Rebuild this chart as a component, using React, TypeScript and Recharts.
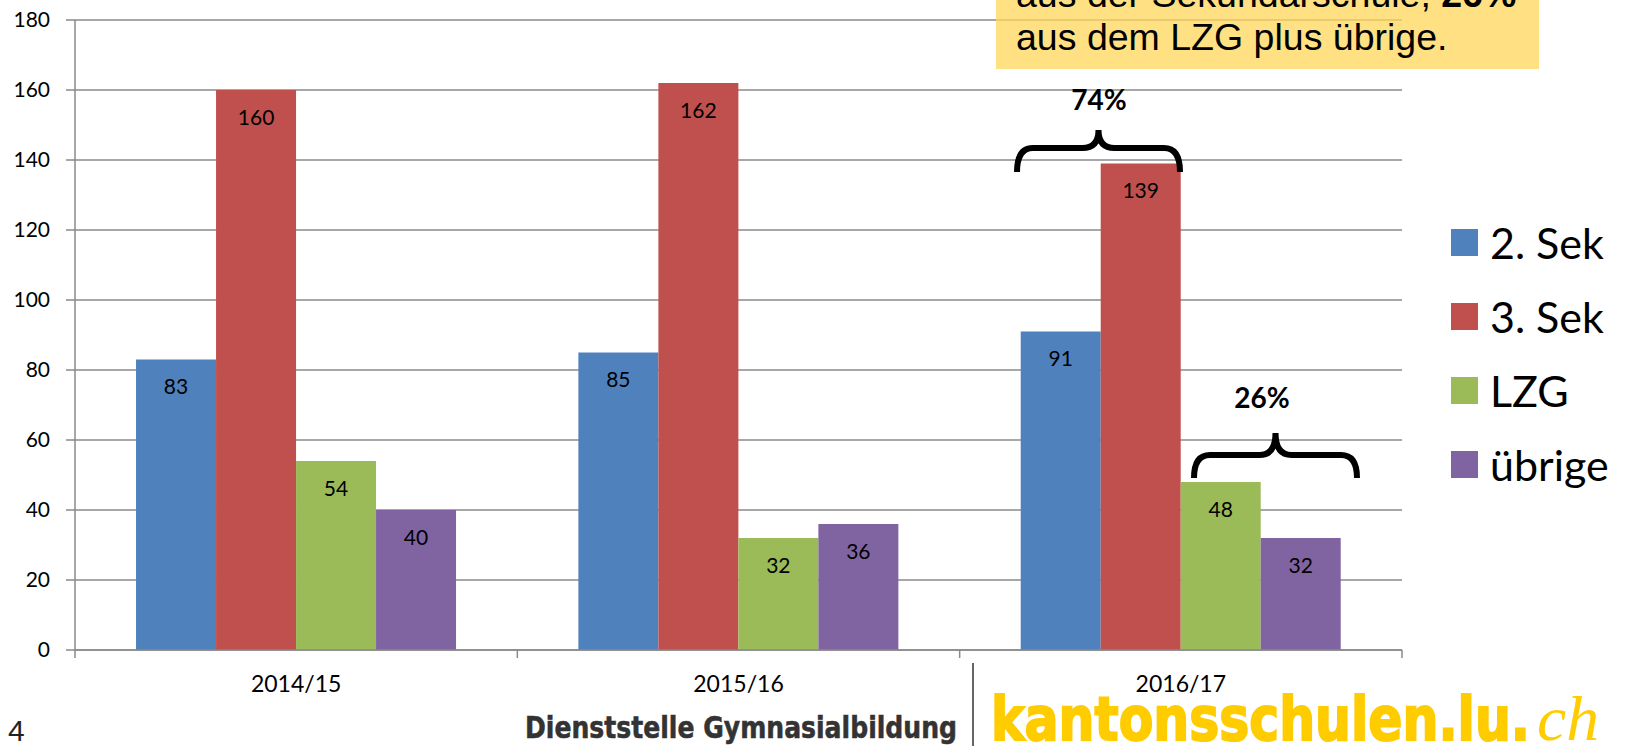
import { Bar, BarChart, CartesianGrid, LabelList, XAxis, YAxis } from "recharts";

const years = ["2014/15", "2015/16", "2016/17"];
const sek2 = [83, 85, 91];
const sek3 = [160, 162, 139];
const lzg = [54, 32, 48];
const uebrige = [40, 36, 32];
const yTicks = [0, 20, 40, 60, 80, 100, 120, 140, 160, 180];

const seriesKeys = ["sek2", "sek3", "lzg", "uebrige"];
const seriesNames = ["2. Sek", "3. Sek", "LZG", "übrige"];
const seriesColors = ["#4F81BD", "#C0504D", "#9BBB59", "#8064A2"];

const data = years.map((year, i) => ({
  year,
  sek2: sek2[i],
  sek3: sek3[i],
  lzg: lzg[i],
  uebrige: uebrige[i],
}));

const font = "Lato, 'Noto Sans', sans-serif";
const arial = "'Liberation Sans', Arial, sans-serif";
const gridGray = "#8a8a8a";

function CategoryTick(props: any) {
  const { x, y, payload, index, visibleTicksCount } = props;
  const half = payload.offset ?? 0;
  const axisY = 650;
  return (
    <g>
      <line x1={x - half} x2={x - half} y1={axisY} y2={axisY + 8} stroke={gridGray} strokeWidth={1.5} />
      {index === visibleTicksCount - 1 ? (
        <line x1={x + half} x2={x + half} y1={axisY} y2={axisY + 8} stroke={gridGray} strokeWidth={1.5} />
      ) : null}
      <text x={x} y={y} dy="0.71em" textAnchor="middle" fill="#000" fontSize={23} fontFamily={font}>
        {payload.value}
      </text>
    </g>
  );
}

function bracePath(x0: number, x1: number, yTip: number, yMid: number, yTop: number) {
  const xm = (x0 + x1) / 2;
  const r = 16;
  return `M${x0},${yTip} Q${x0},${yMid} ${x0 + r},${yMid} L${xm - r},${yMid} Q${xm},${yMid} ${xm},${yTop} Q${xm},${yMid} ${xm + r},${yMid} L${x1 - r},${yMid} Q${x1},${yMid} ${x1},${yTip}`;
}

export default function App() {
  return (
    <div style={{ position: "absolute", left: 0, top: 0, width: 1631, height: 746, background: "#fff", overflow: "hidden" }}>
      <BarChart
        width={1631}
        height={746}
        data={data}
        margin={{ top: 20, right: 229, bottom: 0, left: 0 }}
        barCategoryGap="13.8%"
        barGap={0}
        style={{ fontFamily: font }}
      >
        <CartesianGrid vertical={false} stroke={gridGray} strokeWidth={1.5} />
        <XAxis
          dataKey="year"
          height={96}
          tickLine={false}
          tickSize={0}
          tickMargin={26}
          axisLine={{ stroke: gridGray, strokeWidth: 1.5 }}
          tick={<CategoryTick />}
          interval={0}
        />
        <YAxis
          width={75}
          domain={[0, 180]}
          ticks={yTicks}
          interval={0}
          tickSize={9}
          tickMargin={16}
          tickLine={{ stroke: gridGray, strokeWidth: 1.5 }}
          axisLine={{ stroke: gridGray, strokeWidth: 1.5 }}
          tick={{ fill: "#000", fontSize: 21, fontFamily: font }}
        />
        {seriesKeys.map((key, i) => (
          <Bar key={key} dataKey={key} name={seriesNames[i]} fill={seriesColors[i]} isAnimationActive={false}>
            <LabelList dataKey={key} position="insideTop" offset={20} fill="#000" fontSize={21} fontFamily={font} />
          </Bar>
        ))}
      </BarChart>

      <div style={{ position: "absolute", left: 1451, top: 205, fontFamily: font }}>
        {seriesNames.map((name, i) => (
          <div key={name} style={{ display: "flex", alignItems: "center", height: 74 }}>
            <span style={{ width: 27, height: 27, background: seriesColors[i], marginRight: 12 }} />
            <span style={{ fontSize: 43, color: "#000", lineHeight: 1 }}>{name}</span>
          </div>
        ))}
      </div>

      <svg width={1631} height={746} style={{ position: "absolute", left: 0, top: 0, pointerEvents: "none" }}>
        <rect x={996} y={-10} width={543} height={79} fill="rgba(255, 214, 90, 0.75)" />
        <text x={1016} y={7} fontSize={37.5} fontFamily={arial} fill="#000">
          aus der Sekundarschule, <tspan fontWeight="bold">26%</tspan>
        </text>
        <text x={1016} y={50} fontSize={37.5} fontFamily={arial} fill="#000">
          aus dem LZG plus übrige.
        </text>

        <path d={bracePath(1017, 1180, 172, 148, 130)} fill="none" stroke="#000" strokeWidth={6} />
        <text x={1099} y={110} textAnchor="middle" fontSize={28} fontWeight="bold" fontFamily={font}>74%</text>
        <path d={bracePath(1194, 1357, 478, 455, 433)} fill="none" stroke="#000" strokeWidth={6} />
        <text x={1262} y={408} textAnchor="middle" fontSize={28} fontWeight="bold" fontFamily={font}>26%</text>

        <text x={8} y={741} fontSize={30} fontFamily={arial} fill="#222">4</text>
        <text
          x={525}
          y={738}
          fontSize={31}
          fontWeight="bold"
          fontFamily="'DejaVu Sans', sans-serif"
          fill="#333"
          stroke="#333"
          strokeWidth={0.6}
          textLength={432}
          lengthAdjust="spacingAndGlyphs"
        >
          Dienststelle Gymnasialbildung
        </text>
        <line x1={973} x2={973} y1={663} y2={746} stroke="#333" strokeWidth={1.5} />
        <text
          x={991}
          y={740}
          fontSize={60}
          fontWeight="bold"
          fontFamily="'DejaVu Sans', sans-serif"
          fill="#FFCC00"
          stroke="#FFCC00"
          strokeWidth={2}
          textLength={539}
          lengthAdjust="spacingAndGlyphs"
        >
          kantonsschulen.lu.
        </text>
        <text
          x={1537}
          y={740}
          fontSize={64}
          fontStyle="italic"
          fontFamily="'Liberation Serif', serif"
          fill="#FFCC00"
          textLength={62}
          lengthAdjust="spacingAndGlyphs"
        >
          ch
        </text>
      </svg>
    </div>
  );
}
